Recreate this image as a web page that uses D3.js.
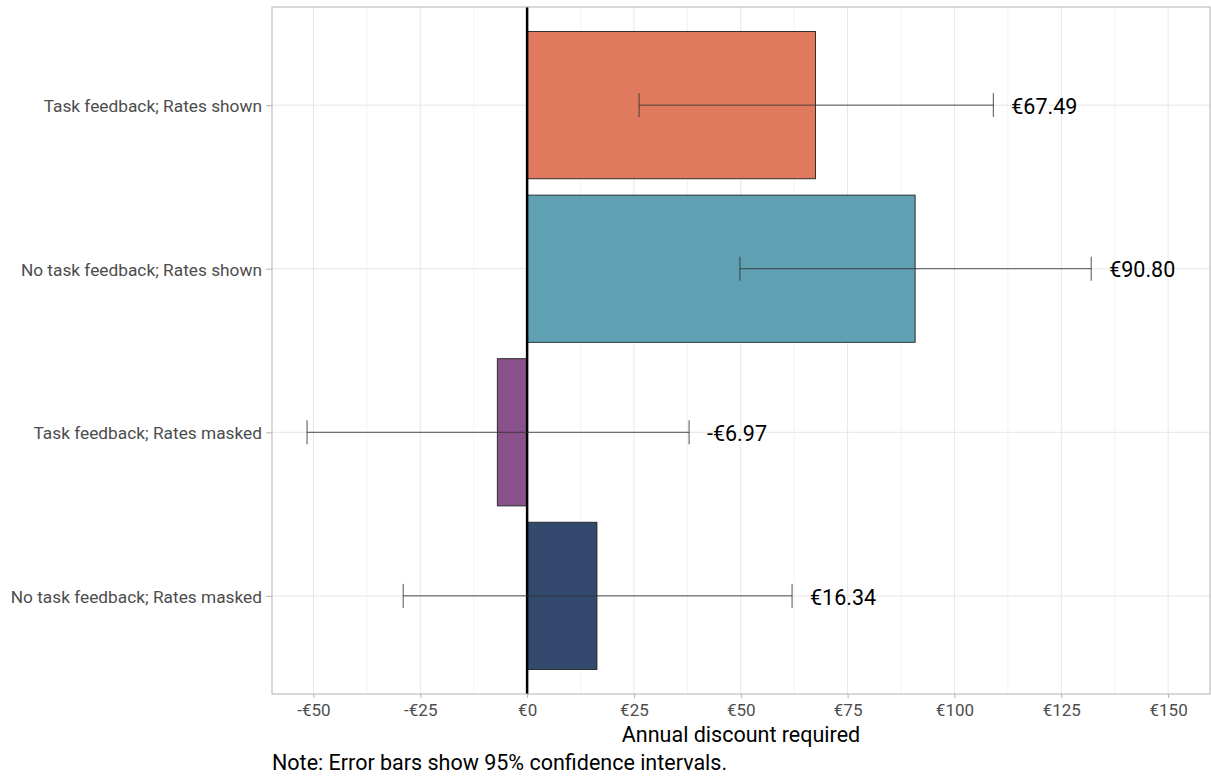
<!DOCTYPE html>
<html>
<head>
<meta charset="utf-8">
<script src="https://cdn.jsdelivr.net/npm/d3@7"></script>
<style>
  html, body { margin: 0; padding: 0; background: #fff; }
  svg { display: block; font-family: Roboto, "Noto Sans", sans-serif; }
</style>
</head>
<body>
<svg id="chart" width="1211" height="778"></svg>
<script>
// Groups, listed top to bottom
const categories = [
  "Task feedback; Rates shown",
  "No task feedback; Rates shown",
  "Task feedback; Rates masked",
  "No task feedback; Rates masked"
];
const estimates = [67.49, 90.80, -6.97, 16.34];
const ciLower = [26.2, 49.8, -51.5, -29.0];
const ciUpper = [109.1, 132.0, 37.9, 62.0];
const barColors = ["#e07a5f", "#5fa0b3", "#8a528a", "#34496e"];
const xTicks = [-50, -25, 0, 25, 50, 75, 100, 125, 150];
const xMinor = [-37.5, -12.5, 12.5, 37.5, 62.5, 87.5, 112.5, 137.5];

const svg = d3.select("#chart");
const panel = { left: 272, right: 1210, top: 7, bottom: 694 };

const x = d3.scaleLinear().domain([-59.7, 159.8]).range([panel.left, panel.right]);
// Discrete axis: categories sit at 1..n with 0.6 padding on each end
const yPos = d3.scaleLinear().domain([0.4, categories.length + 0.6]).range([panel.top, panel.bottom]);
const yc = i => yPos(i + 1);
const band = yPos(1) - yPos(0);
const barH = band * 0.9;

const euro = v => (v < 0 ? "-€" : "€") + d3.format(",")(Math.abs(v));
const euro2 = v => (v < 0 ? "-€" : "€") + Math.abs(v).toFixed(2);

const g = svg.append("g");

// Minor grid
g.selectAll("line.minor").data(xMinor).enter().append("line")
  .attr("x1", d => x(d)).attr("x2", d => x(d))
  .attr("y1", panel.top).attr("y2", panel.bottom)
  .attr("stroke", "#f0f0f0").attr("stroke-width", 0.8);

// Major grid
g.selectAll("line.major").data(xTicks).enter().append("line")
  .attr("x1", d => x(d)).attr("x2", d => x(d))
  .attr("y1", panel.top).attr("y2", panel.bottom)
  .attr("stroke", "#e6e6e6").attr("stroke-width", 1);

g.selectAll("line.hgrid").data(categories).enter().append("line")
  .attr("x1", panel.left).attr("x2", panel.right)
  .attr("y1", (d, i) => yc(i)).attr("y2", (d, i) => yc(i))
  .attr("stroke", "#e6e6e6").attr("stroke-width", 1);

// Bars
g.selectAll("rect.bar").data(estimates).enter().append("rect")
  .attr("x", d => x(Math.min(0, d)))
  .attr("width", d => Math.abs(x(d) - x(0)))
  .attr("y", (d, i) => yc(i) - barH / 2)
  .attr("height", barH)
  .attr("fill", (d, i) => barColors[i])
  .attr("stroke", "#222").attr("stroke-width", 0.9);

// Zero line
g.append("line")
  .attr("x1", x(0)).attr("x2", x(0))
  .attr("y1", panel.top).attr("y2", panel.bottom)
  .attr("stroke", "#000").attr("stroke-width", 2.5);

// Error bars
const cap = 12;
const eb = g.selectAll("g.err").data(categories).enter().append("g")
  .attr("stroke", "#333").attr("stroke-opacity", 0.85).attr("stroke-width", 1);
eb.append("line")
  .attr("x1", (d, i) => x(ciLower[i])).attr("x2", (d, i) => x(ciUpper[i]))
  .attr("y1", (d, i) => yc(i)).attr("y2", (d, i) => yc(i));
eb.append("line")
  .attr("x1", (d, i) => x(ciLower[i])).attr("x2", (d, i) => x(ciLower[i]))
  .attr("y1", (d, i) => yc(i) - cap).attr("y2", (d, i) => yc(i) + cap);
eb.append("line")
  .attr("x1", (d, i) => x(ciUpper[i])).attr("x2", (d, i) => x(ciUpper[i]))
  .attr("y1", (d, i) => yc(i) - cap).attr("y2", (d, i) => yc(i) + cap);

// Value labels
g.selectAll("text.val").data(estimates).enter().append("text")
  .attr("x", (d, i) => x(ciUpper[i] + 4.2))
  .attr("y", (d, i) => yc(i) + 1)
  .attr("dy", "0.36em")
  .attr("font-size", 21.5)
  .attr("fill", "#000")
  .text(d => euro2(d));

// Panel border
g.append("rect")
  .attr("x", panel.left).attr("y", panel.top)
  .attr("width", panel.right - panel.left).attr("height", panel.bottom - panel.top)
  .attr("fill", "none").attr("stroke", "#b3b3b3").attr("stroke-width", 1);

// X axis
const xAxis = d3.axisBottom(x).tickValues(xTicks).tickFormat(euro).tickSize(4).tickPadding(6);
const xa = svg.append("g").attr("transform", `translate(0,${panel.bottom})`).call(xAxis);
xa.select(".domain").remove();
xa.selectAll(".tick line").attr("stroke", "#b3b3b3");
xa.selectAll(".tick text").attr("fill", "#4d4d4d").attr("font-size", 17).attr("font-family", "Roboto");

// Y axis
const yAxis = d3.axisLeft(yPos).tickValues(categories.map((d, i) => i + 1))
  .tickFormat(v => categories[v - 1]).tickSize(6).tickPadding(4);
const ya = svg.append("g").attr("transform", `translate(${panel.left},0)`).call(yAxis);
ya.select(".domain").remove();
ya.selectAll(".tick line").attr("stroke", "#b3b3b3");
ya.selectAll(".tick text").attr("fill", "#4d4d4d").attr("font-size", 17.3).attr("font-family", "Roboto")
  .attr("dy", "0.38em");

// Axis title
svg.append("text")
  .attr("x", (panel.left + panel.right) / 2).attr("y", 742)
  .attr("text-anchor", "middle").attr("font-size", 21.5).attr("fill", "#000")
  .text("Annual discount required");

// Caption
svg.append("text")
  .attr("x", panel.left).attr("y", 770)
  .attr("font-size", 21.5).attr("fill", "#000")
  .text("Note: Error bars show 95% confidence intervals.");
</script>
</body>
</html>
